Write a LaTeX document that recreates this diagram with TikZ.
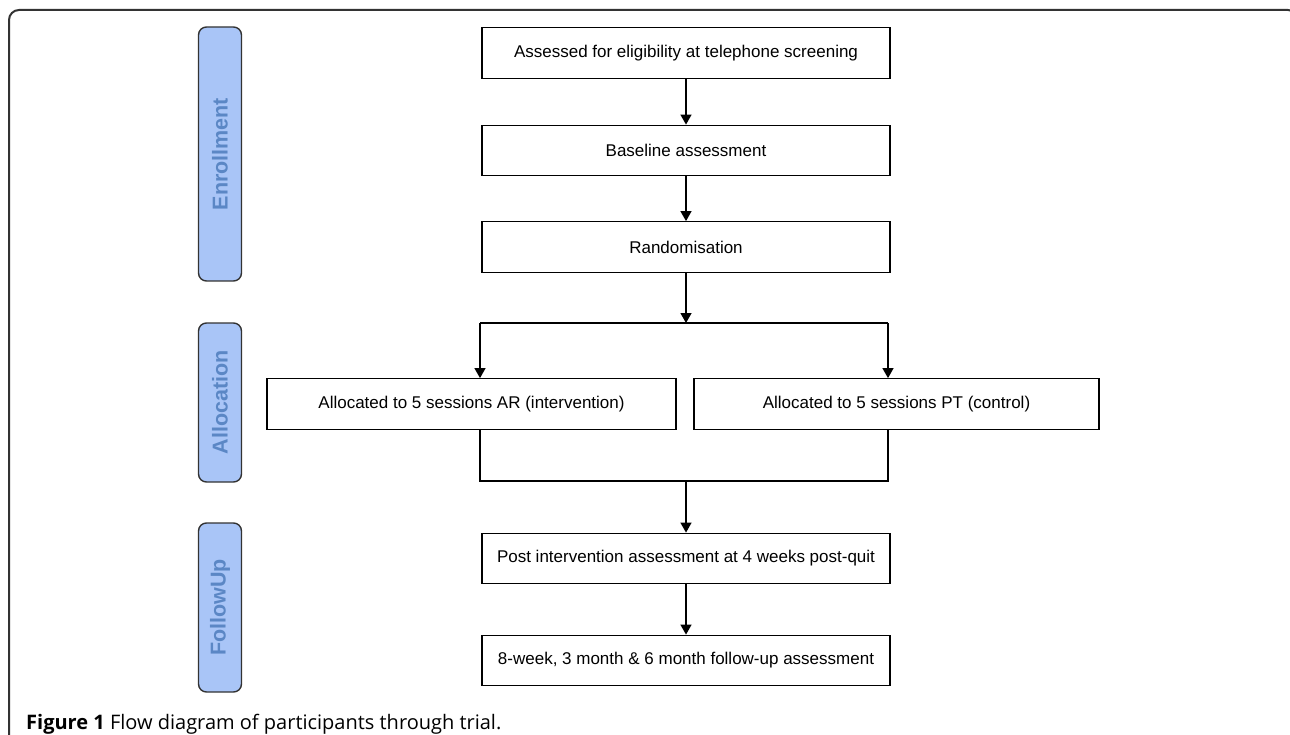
\documentclass[tikz,border=0pt]{standalone}
\usepackage{fontspec}
\setmainfont{Liberation Sans}
\newfontfamily\capfont{Open Sans}
\usetikzlibrary{arrows.meta}
\definecolor{phasefill}{HTML}{A9C5F7}
\definecolor{phasetext}{HTML}{5B87C5}
\definecolor{framegray}{HTML}{333333}
\begin{document}
\begin{tikzpicture}[x=1pt,y=-1pt,
  flowbox/.style={draw=black, line width=1.3pt, minimum height=50.5pt, inner sep=0pt, font=\fontsize{17}{20}\selectfont},
  phase/.style={draw=framegray, fill=phasefill, rounded corners=8pt, line width=1.4pt, minimum width=43pt, inner sep=0pt},
  phaselabel/.style={text=phasetext, font=\bfseries\fontsize{21.5}{24}\selectfont, rotate=90, inner sep=0pt},
  arr/.style={line width=1.3pt, -{Triangle[length=10pt,width=11pt]}},
  link/.style={line width=1.3pt}]
\useasboundingbox (0,0) rectangle (1290,735);
% frame
\draw[framegray, line width=2pt, rounded corners=10pt] (9,745) -- (9,10) -- (1298,10) -- (1298,745);
% phase bars
\node[phase, minimum height=254pt] (enr) at (220,154) {};
\node[phaselabel] (enrl) at (enr.center) {Enrollment};
\node[phase, minimum height=159pt] (alo) at (220,402.5) {};
\node[phaselabel] (alol) at (alo.center) {Allocation};
\node[phase, minimum height=169pt] (fol) at (220,607.5) {};
\node[phaselabel] (foll) at (fol.center) {FollowUp};
% flow boxes
\node[flowbox, minimum width=408pt] (b1) at (686,53) {Assessed for eligibility at telephone screening};
\node[flowbox, minimum width=408pt] (b2) at (686,150.5) {Baseline assessment};
\node[flowbox, minimum width=408pt] (b3) at (686,247) {Randomisation};
\node[flowbox, minimum width=409pt] (ar) at (471.5,404) {Allocated to 5 sessions AR (intervention)};
\node[flowbox, minimum width=405pt] (pt) at (896.5,404) {Allocated to 5 sessions PT (control)};
\node[flowbox, minimum width=408pt] (post) at (686,558.5) {Post intervention assessment at 4 weeks post-quit};
\node[flowbox, minimum width=408pt] (fu) at (686,660.5) {8-week, 3 month \& 6 month follow-up assessment};
% connectors
\draw[arr] (b1) -- (b2);
\draw[arr] (b2) -- (b3);
\coordinate (split) at (686,323);
\coordinate (sl) at (480,323);
\coordinate (sr) at (888,323);
\draw[arr] (b3) -- (split);
\draw[link] (sl) -- (sr);
\draw[line width=2pt] (578,323) -- (792,323);
\draw[arr] (sl) -- (sl |- ar.north);
\draw[arr] (sr) -- (sr |- pt.north);
\coordinate (jl) at (480,481);
\coordinate (jr) at (888,481);
\coordinate (jm) at (686,481);
\draw[link] (jl |- ar.south) -- (jl) -- (jr) -- (jr |- pt.south);
\draw[arr] (jm) -- (post);
\draw[arr] (post) -- (fu);
% caption
\node[anchor=base west, inner sep=0pt, font=\capfont\fontsize{20}{22}\selectfont] (cap) at (26,729) {\textbf{Figure 1} Flow diagram of participants through trial.};
\end{tikzpicture}
\end{document}
